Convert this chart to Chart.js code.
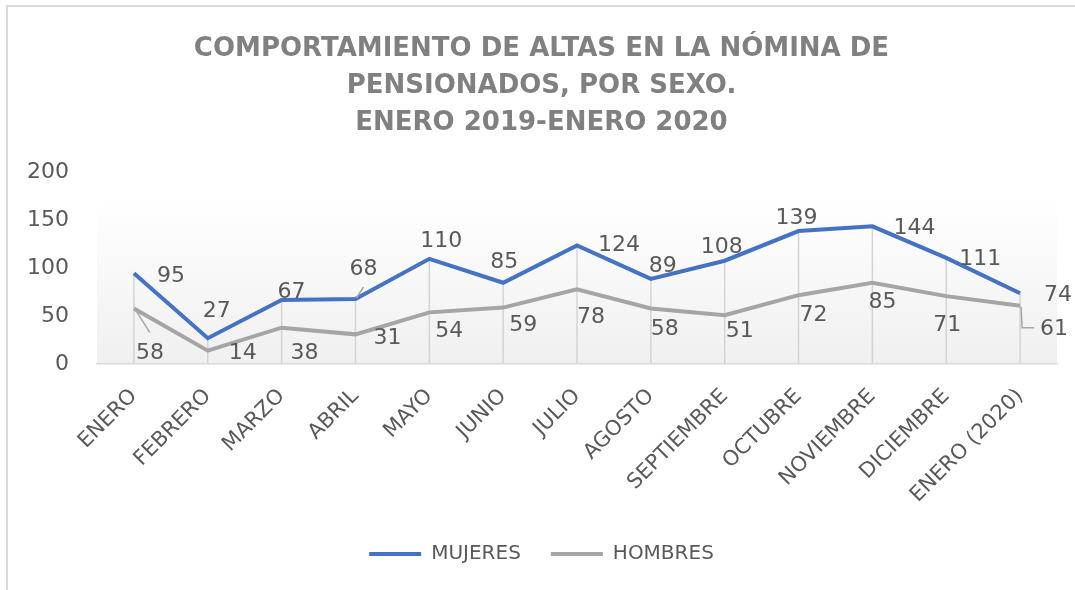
<!DOCTYPE html>
<html>
<head>
<meta charset="utf-8">
<script src="https://cdn.jsdelivr.net/npm/chart.js"></script>
<style>
  html, body { margin: 0; padding: 0; background: #fff; overflow: hidden; }
  #wrap { position: relative; width: 1075px; height: 590px; }
  #frame { position: absolute; left: 6px; top: 5px; width: 1200px; height: 700px;
           border-left: 2px solid #d9d9d9; border-top: 2px solid #d9d9d9; }
  canvas { position: absolute; left: 0; top: 0; }
</style>
</head>
<body>
<div id="wrap">
  <div id="frame"></div>
  <canvas id="altasChart" width="1075" height="590"></canvas>
</div>
<script>
const meses = ["ENERO", "FEBRERO", "MARZO", "ABRIL", "MAYO", "JUNIO", "JULIO",
  "AGOSTO", "SEPTIEMBRE", "OCTUBRE", "NOVIEMBRE", "DICIEMBRE", "ENERO (2020)"];
const mujeres = [95, 27, 67, 68, 110, 85, 124, 89, 108, 139, 144, 111, 74];
const hombres = [58, 14, 38, 31, 54, 59, 78, 58, 51, 72, 85, 71, 61];
const tituloLineas = ["COMPORTAMIENTO DE ALTAS EN LA NÓMINA DE",
  "PENSIONADOS, POR SEXO.", "ENERO 2019-ENERO 2020"];

// label placement (pixel offsets from each point, like Excel put them)
const offMujeres = [[37, 3], [9, -27], [10, -8], [8, -30], [12, -18], [1, -20], [42, 0],
  [12, -13], [-3, -13], [-2, -13], [42, 2], [34, 1], [38, 2]];
const offHombres = [[16, 45], [35, 3], [23, 26], [32, 4], [20, 19], [20, 18], [14, 28],
  [14, 21], [15, 16], [15, 20], [10, 20], [1, 29], [34, 24]];
// leader lines: [dataset, index, polyline relative to point]
const guias = [
  [1, 0, [[2, 2], [16, 24]]],
  [0, 3, [[1, -1], [8, -12]]],
  [1, 12, [[1, 1], [2, 22], [14, 22]]],
];

const AZUL = "#4472c4";
const GRIS = "#a5a5a5";
const TEXTO = "#595959";
const FONT = "DejaVu Sans";

// plot area gradient + drop lines
const fondoPlugin = {
  id: "fondo",
  beforeDraw(chart) {
    const { ctx, chartArea: a } = chart;
    const top = a.top + (a.bottom - a.top) * 0.13;
    const g = ctx.createLinearGradient(0, top, 0, a.bottom);
    g.addColorStop(0, "rgba(255,255,255,1)");
    g.addColorStop(1, "#f0f0f0");
    ctx.save();
    ctx.fillStyle = g;
    ctx.fillRect(a.left, top, a.right - a.left, a.bottom - top);
    ctx.restore();
  },
  beforeDatasetsDraw(chart) {
    const { ctx, chartArea: a, scales } = chart;
    ctx.save();
    ctx.strokeStyle = "#d4d4d4";
    ctx.lineWidth = 1.5;
    meses.forEach((m, i) => {
      const x = scales.x.getPixelForValue(i);
      const y = scales.y.getPixelForValue(Math.max(mujeres[i], hombres[i]));
      ctx.beginPath();
      ctx.moveTo(x, y);
      ctx.lineTo(x, a.bottom);
      ctx.stroke();
    });
    ctx.restore();
  },
};

const etiquetasPlugin = {
  id: "etiquetas",
  afterDatasetsDraw(chart) {
    const ctx = chart.ctx;
    ctx.save();
    // leader lines
    ctx.strokeStyle = "#a6a6a6";
    ctx.lineWidth = 1.5;
    guias.forEach(([d, i, pts]) => {
      const p = chart.getDatasetMeta(d).data[i];
      ctx.beginPath();
      pts.forEach(([dx, dy], k) => {
        if (k === 0) ctx.moveTo(p.x + dx, p.y + dy);
        else ctx.lineTo(p.x + dx, p.y + dy);
      });
      ctx.stroke();
    });
    ctx.font = "22px '" + FONT + "'";
    ctx.fillStyle = TEXTO;
    ctx.textAlign = "center";
    ctx.textBaseline = "middle";
    [offMujeres, offHombres].forEach((offs, d) => {
      const meta = chart.getDatasetMeta(d);
      const vals = chart.data.datasets[d].data;
      meta.data.forEach((p, i) => {
        ctx.fillText(String(vals[i]), p.x + offs[i][0], p.y + offs[i][1]);
      });
    });
    ctx.restore();
  },
};

const ctx = document.getElementById("altasChart").getContext("2d");
const altasChart = new Chart(ctx, {
  type: "line",
  data: {
    labels: meses,
    datasets: [
      { label: "MUJERES", data: mujeres, borderColor: AZUL, backgroundColor: AZUL,
        borderWidth: 4, pointRadius: 0, tension: 0, fill: false },
      { label: "HOMBRES", data: hombres, borderColor: GRIS, backgroundColor: GRIS,
        borderWidth: 4, pointRadius: 0, tension: 0, fill: false },
    ],
  },
  options: {
    responsive: false,
    animation: false,
    devicePixelRatio: 1,
    layout: { padding: { left: 26, right: 18, top: 0, bottom: 16 } },
    scales: {
      x: {
        offset: true,
        grid: { display: false, offset: false },
        border: { display: true, color: "#d9d9d9", width: 1.5 },
        ticks: {
          color: TEXTO,
          font: { family: FONT, size: 21 },
          minRotation: 45,
          maxRotation: 45,
          padding: 12,
          autoSkip: false,
        },
        afterFit(scale) {
          scale.height = 150;
          scale.paddingLeft = 0;
          scale.paddingRight = 0;
        },
      },
      y: {
        min: 0,
        max: 200,
        grid: { display: false },
        border: { display: false },
        ticks: {
          stepSize: 50,
          color: TEXTO,
          font: { family: FONT, size: 22 },
          padding: 20,
        },
        afterFit(scale) { scale.width = 71; },
      },
    },
    plugins: {
      title: {
        display: true,
        text: tituloLineas,
        color: "#808080",
        font: { family: FONT, size: 26, weight: "bold", lineHeight: 1.42 },
        padding: { top: 31, bottom: 31 },
      },
      legend: {
        position: "bottom",
        labels: {
          color: TEXTO,
          font: { family: FONT, size: 20 },
          boxWidth: 52,
          boxHeight: 4,
          padding: 30,
          generateLabels(chart) {
            return chart.data.datasets.map((ds, i) => ({
              text: ds.label,
              fillStyle: ds.borderColor,
              strokeStyle: ds.borderColor,
              lineWidth: 0,
              fontColor: TEXTO,
              datasetIndex: i,
            }));
          },
        },
      },
      tooltip: { enabled: false },
    },
  },
  plugins: [fondoPlugin, etiquetasPlugin],
});
</script>
</body>
</html>
